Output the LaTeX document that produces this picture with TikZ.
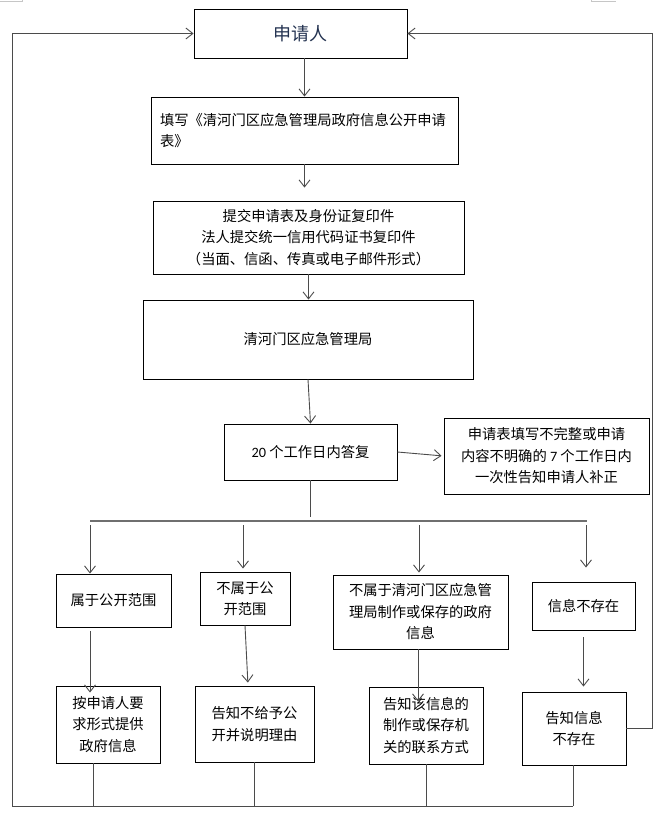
\documentclass[tikz,border=0pt]{standalone}
\usepackage{fontspec}
\setmainfont{Noto Sans CJK SC}
\newfontfamily\latn{Carlito}
\usetikzlibrary{arrows.meta}
\definecolor{lnc}{RGB}{75,75,75}
\definecolor{appc}{RGB}{35,50,80}
\begin{document}
\begin{tikzpicture}[x=1pt,y=-1pt,
  box/.style={draw=black,line width=0.9pt,inner sep=0pt,align=center,
    font=\fontsize{14.3}{21.5}\selectfont},
  conn/.style={draw=lnc,line width=0.9pt},
  arr/.style={conn,-{Straight Barb[length=7pt,width=11pt,line width=0.9pt]}},
  busline/.style={draw=lnc!80,line width=1.5pt},
  mark/.style={}]
\useasboundingbox (0,0) rectangle (659,814);
% corner marks
\draw[gray!45,line width=0.7pt] (0,1.5) -- (22,1.5) -- (22,0);
\draw[gray!45,line width=0.7pt] (591,0) -- (591,1.5) -- (616,1.5);
% boxes
\node[box,minimum width=213pt,minimum height=49pt,font=\fontsize{18}{20}\selectfont,text=appc] (app) at (300.5,33.5) {申请人};
\node[box,text width=289pt,inner xsep=9pt,align=left,minimum height=67pt] (fill) at (304.5,130.5) {填写《清河门区应急管理局政府信息公开申请\\表》};
\node[box,minimum width=311pt,minimum height=73pt] (sub) at (308.5,237.5) {提交申请表及身份证复印件\\法人提交统一信用代码证书复印件\\（当面、信函、传真或电子邮件形式）};
\node[box,minimum width=330pt,minimum height=79pt] (bur) at (308,339.5) {清河门区应急管理局};
\node[box,minimum width=173pt,minimum height=56pt] (rep) at (310.5,452) {{\latn 20} 个工作日内答复};
\node[box,minimum width=205pt,minimum height=76pt] (inc) at (546.5,456) {申请表填写不完整或申请\\内容不明确的 {\latn 7} 个工作日内\\一次性告知申请人补正};
\node[box,minimum width=115pt,minimum height=53pt] (b1) at (113.5,600.5) {属于公开范围};
\node[box,minimum width=90pt,minimum height=53pt] (b2) at (245,598.5) {不属于公\\开范围};
\node[box,minimum width=175pt,minimum height=74pt] (b3) at (420.5,612) {不属于清河门区应急管\\理局制作或保存的政府\\信息};
\node[box,minimum width=103pt,minimum height=48pt] (b4) at (583.5,606) {信息不存在};
\node[box,minimum width=104pt,minimum height=77pt] (c1) at (108,724.5) {按申请人要\\求形式提供\\政府信息};
\node[box,minimum width=119pt,minimum height=76pt] (c2) at (254.5,724) {告知不给予公\\开并说明理由};
\node[box,minimum width=114pt,minimum height=77pt] (c3) at (426,725.5) {告知该信息的\\制作或保存机\\关的联系方式};
\node[box,minimum width=104pt,minimum height=73pt] (c4) at (574,728.5) {告知信息\\不存在};
% coordinates
\coordinate (d1) at (90,521);
\coordinate (d2) at (243,521);
\coordinate (d3) at (419,521);
\coordinate (d4) at (586,521);
\coordinate (dR) at (587,521);
\coordinate (x1) at (90,0);
\coordinate (x2) at (248,0);
\coordinate (x3) at (418,0);
\coordinate (e1) at (93,806);
\coordinate (e4) at (573,806);
\coordinate (LL) at (12,806);
\coordinate (LT) at (12,33.5);
\coordinate (RT) at (652,33.5);
% main chain
\draw[arr] (app.south -| fill.north) -- (fill.north);
\draw[arr,shorten >=13pt] (fill.south) -- (fill.south |- sub.north);
\draw[arr] (sub.south) -- (sub.south |- bur.north);
\draw[arr] (bur.south) -- (rep.north);
\draw[arr,shorten >=2pt] (rep.east) -- (inc.west);
\draw[conn] (rep.south) -- ++(0,37);
\draw[busline] (d1) -- (dR);
% drops
\draw[arr,shorten <=4pt] (d1) -- (d1 |- b1.north);
\draw[arr,shorten <=4pt,shorten >=3pt] (d2) -- (d2 |- b2.north);
\draw[arr,shorten <=4pt,shorten >=2pt] (d3) -- (d3 |- b3.north);
\draw[arr,shorten <=4pt,shorten >=14pt] (d4) -- (d4 |- b4.north);
% second level
\draw[arr,shorten <=4pt,shorten >=-7pt] (b1.south -| x1) -- (c1.north -| x1);
\draw[arr,shorten >=3pt] (b2.south) -- (c2.north -| x2);
\draw[arr,shorten >=-15pt] (b3.south -| x3) -- (c3.north -| x3);
\draw[arr,shorten <=7pt,shorten >=5pt] (b4.south) -- (b4.south |- c4.north);
% bottom return
\draw[conn] (c1.south -| e1) -- (e1);
\draw[conn] (c2.south) -- (c2.south |- e1);
\draw[conn] (c3.south) -- (c3.south |- e1);
\draw[conn] (c4.south -| e4) -- (e4);
\draw[arr] (e4) -- (LL) -- (LT) -- (app.west);
\draw[arr] (c4.east) -- (c4.east -| RT) -- (RT) -- (app.east);
\end{tikzpicture}
\end{document}
